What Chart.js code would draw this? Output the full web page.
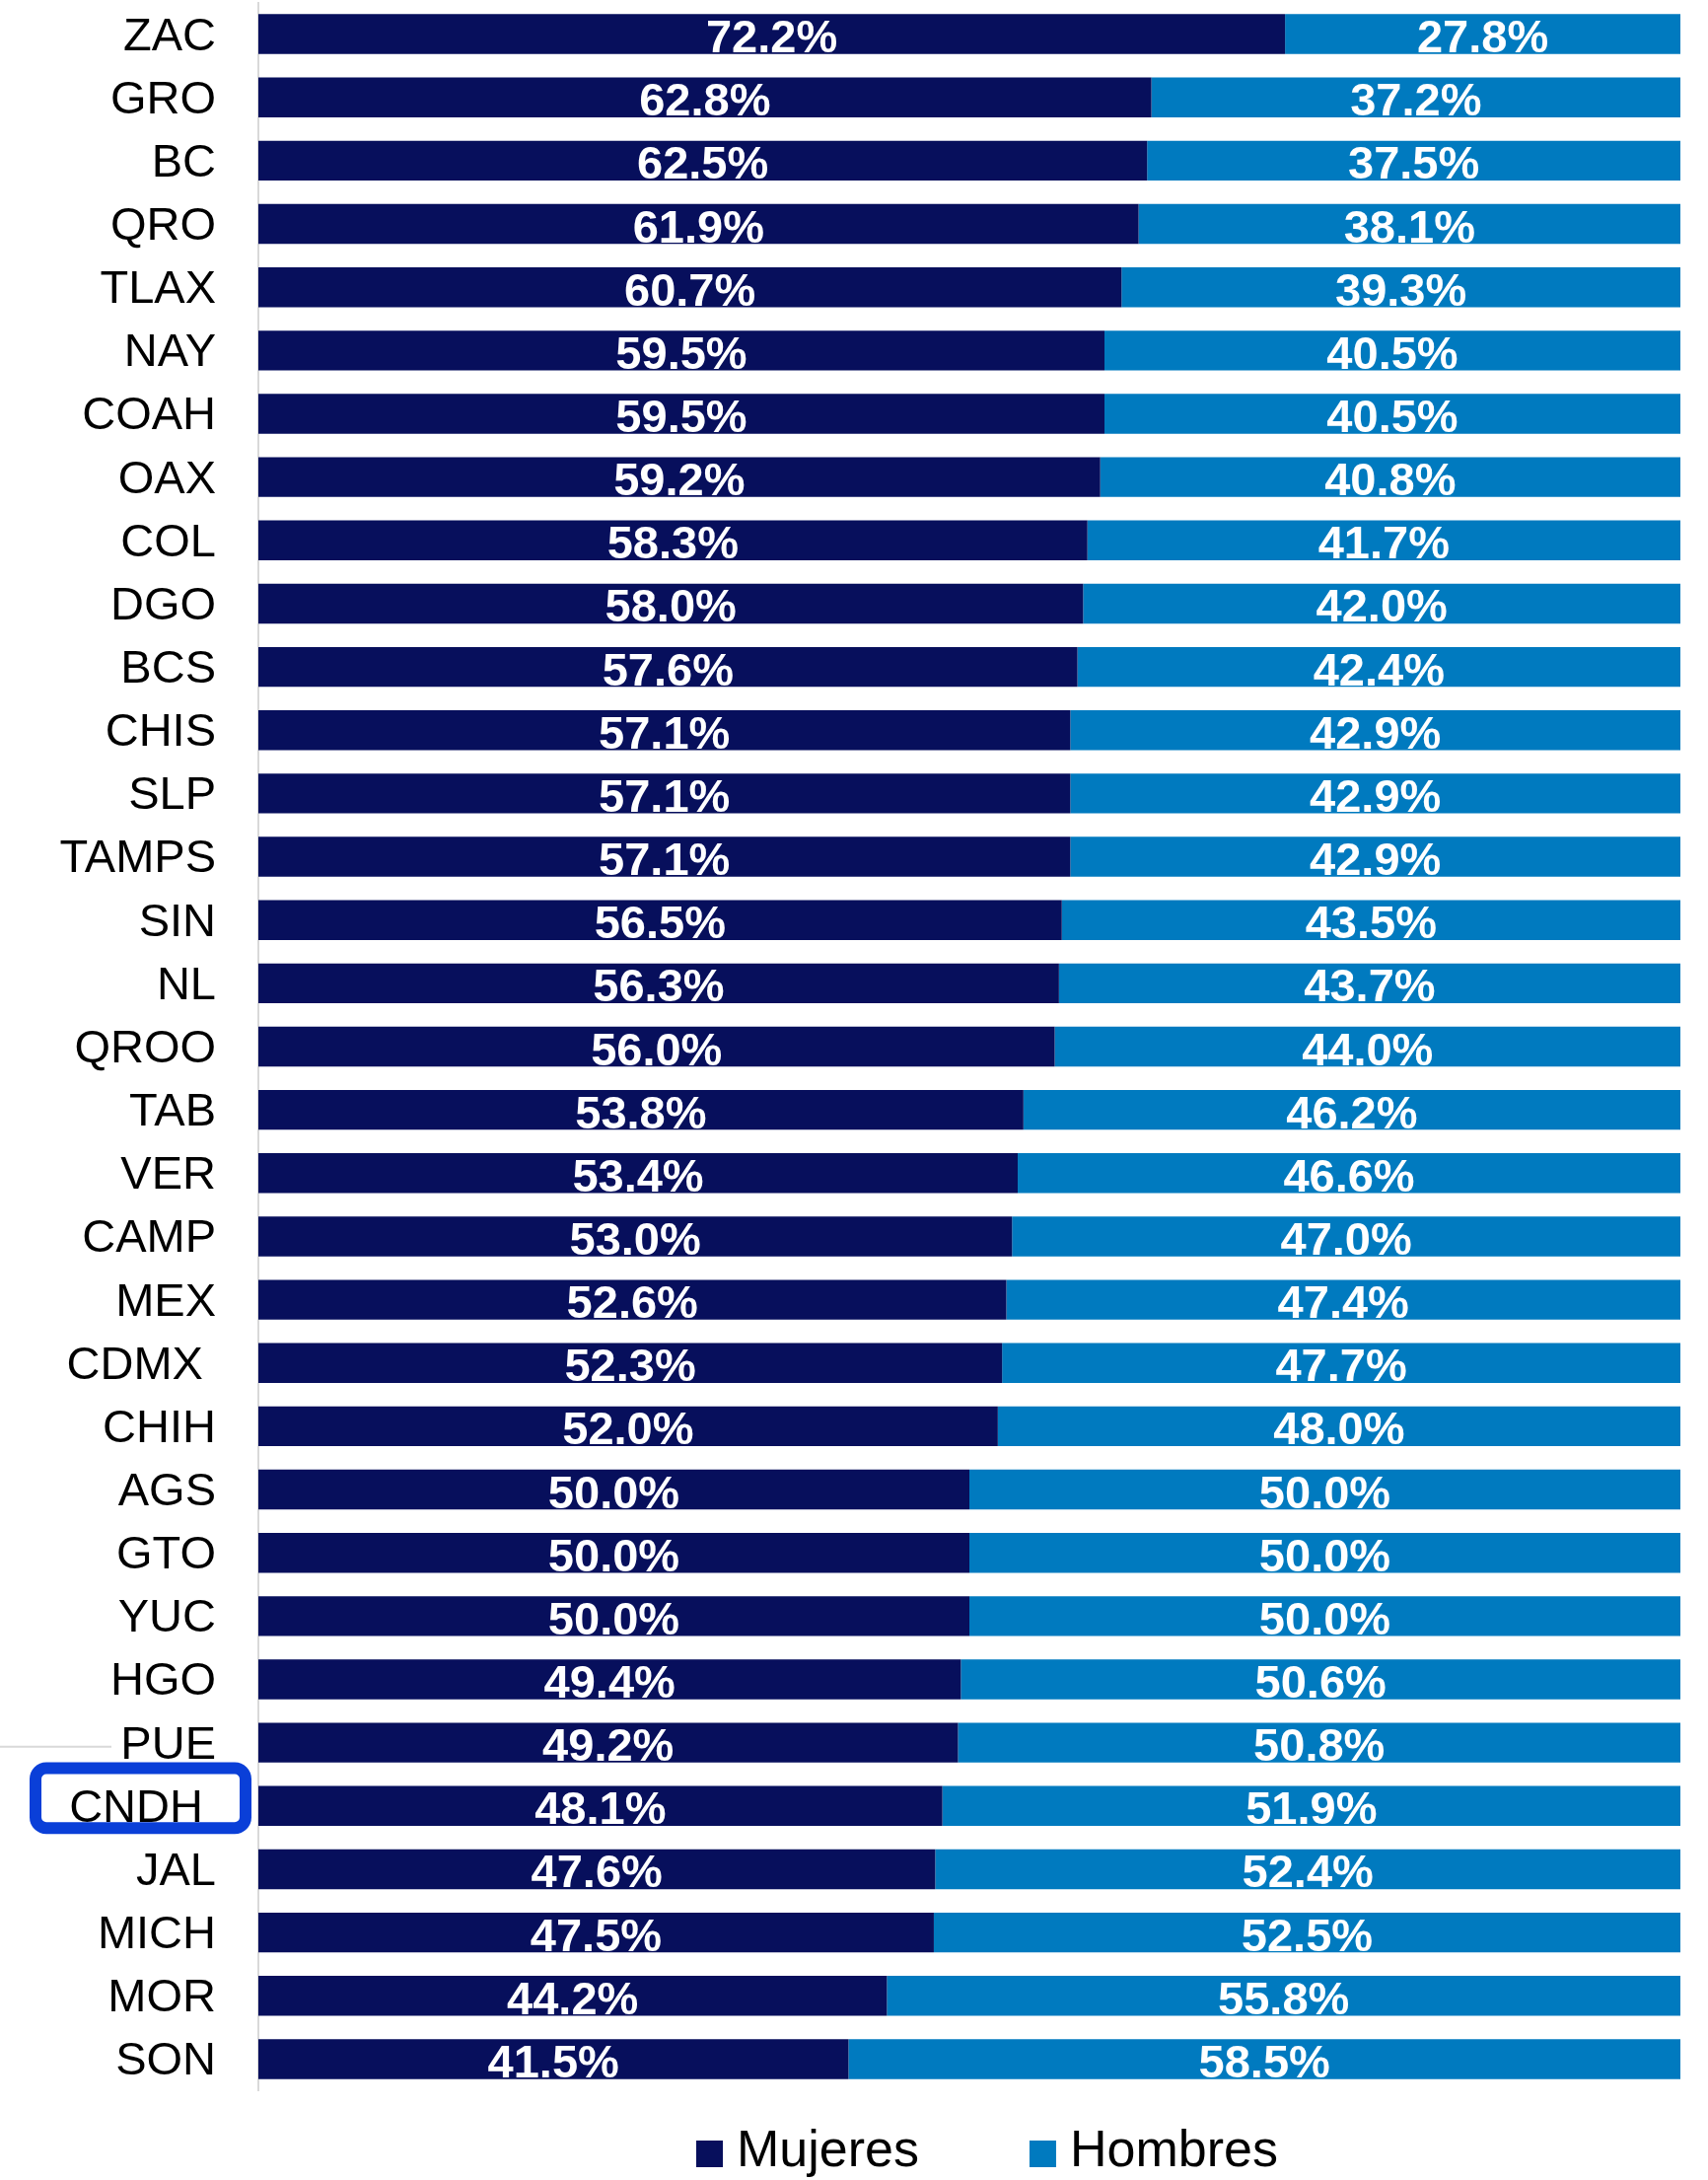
<!DOCTYPE html>
<html>
<head>
<meta charset="utf-8">
<script src="https://cdn.jsdelivr.net/npm/chart.js@4"></script>
<style>
  html, body { margin: 0; padding: 0; background: #ffffff; }
  #wrap { width: 1732px; height: 2210px; }
</style>
</head>
<body>
<div id="wrap"><canvas id="c" width="1732" height="2210"></canvas></div>
<script>
const categories = ["ZAC","GRO","BC","QRO","TLAX","NAY","COAH","OAX","COL","DGO","BCS","CHIS","SLP","TAMPS","SIN","NL","QROO","TAB","VER","CAMP","MEX","CDMX ","CHIH","AGS","GTO","YUC","HGO","PUE","CNDH ","JAL","MICH","MOR","SON"];
const mujeres = [72.2,62.8,62.5,61.9,60.7,59.5,59.5,59.2,58.3,58.0,57.6,57.1,57.1,57.1,56.5,56.3,56.0,53.8,53.4,53.0,52.6,52.3,52.0,50.0,50.0,50.0,49.4,49.2,48.1,47.6,47.5,44.2,41.5];
const hombres = [27.8,37.2,37.5,38.1,39.3,40.5,40.5,40.8,41.7,42.0,42.4,42.9,42.9,42.9,43.5,43.7,44.0,46.2,46.6,47.0,47.4,47.7,48.0,50.0,50.0,50.0,50.6,50.8,51.9,52.4,52.5,55.8,58.5];
const seriesNames = ["Mujeres","Hombres"];
const highlighted = "CNDH ";
const markedRow = "PUE";

const FONT = "'Liberation Sans', Arial, sans-serif";

const valueLabels = {
  id: 'valueLabels',
  afterDatasetsDraw(chart) {
    const ctx = chart.ctx;
    ctx.save();
    ctx.font = "bold 47px " + FONT;
    ctx.fillStyle = "#ffffff";
    ctx.textAlign = "center";
    ctx.textBaseline = "alphabetic";
    chart.data.datasets.forEach((ds, di) => {
      const meta = chart.getDatasetMeta(di);
      meta.data.forEach((el, i) => {
        const v = ds.data[i];
        const cx = (el.x + el.base) / 2;
        ctx.fillText(v.toFixed(1) + "%", cx, el.y + 18.5);
      });
    });
    ctx.restore();
  }
};

const decorations = {
  id: 'decorations',
  afterDraw(chart) {
    const ctx = chart.ctx;
    const ys = chart.scales.y;
    const pIdx = categories.indexOf(markedRow);
    const py = ys.getPixelForValue(pIdx) + 4;
    ctx.save();
    ctx.strokeStyle = "#d9d9d9";
    ctx.lineWidth = 2;
    ctx.beginPath();
    ctx.moveTo(0, py);
    ctx.lineTo(113, py);
    ctx.stroke();
    const hIdx = categories.indexOf(highlighted);
    const cy = ys.getPixelForValue(hIdx);
    ctx.strokeStyle = "#0a3fd8";
    ctx.lineWidth = 12;
    ctx.beginPath();
    ctx.roundRect(36, cy - 38.3, 213, 60.8, 11);
    ctx.stroke();
    ctx.font = "52px " + FONT;
    ctx.textBaseline = "alphabetic";
    ctx.textAlign = "left";
    let x = 706;
    chart.data.datasets.forEach((ds) => {
      ctx.fillStyle = ds.backgroundColor;
      ctx.fillRect(x, 2170, 27, 27);
      ctx.fillStyle = "#000000";
      ctx.fillText(ds.label, x + 41, 2196);
      x += 41 + ctx.measureText(ds.label).width + 112;
    });
    ctx.restore();
  }
};

new Chart(document.getElementById('c'), {
  type: 'bar',
  data: {
    labels: categories,
    datasets: [
      { label: seriesNames[0], data: mujeres, backgroundColor: "#070f5c", borderWidth: 0, barPercentage: 0.63, categoryPercentage: 1.0 },
      { label: seriesNames[1], data: hombres, backgroundColor: "#007abf", borderWidth: 0, barPercentage: 0.63, categoryPercentage: 1.0 }
    ]
  },
  options: {
    indexAxis: 'y',
    responsive: false,
    maintainAspectRatio: false,
    devicePixelRatio: 1,
    animation: false,
    layout: { padding: { top: 2.5, right: 28, bottom: 90.5, left: 0 } },
    plugins: {
      legend: { display: false },
      tooltip: { enabled: false },
      title: { display: false }
    },
    scales: {
      x: { stacked: true, min: 0, max: 100, display: false },
      y: {
        stacked: true,
        grid: { display: false, drawTicks: false },
        border: { display: true, color: "#d9d9d9", width: 2 },
        ticks: { color: "#000000", font: { family: FONT, size: 47 }, padding: 43, autoSkip: false, labelOffset: 3 },
        afterFit(scale) { scale.width = 262; scale.paddingTop = 0; scale.paddingBottom = 0; }
      }
    }
  },
  plugins: [valueLabels, decorations]
});
</script>
</body>
</html>
